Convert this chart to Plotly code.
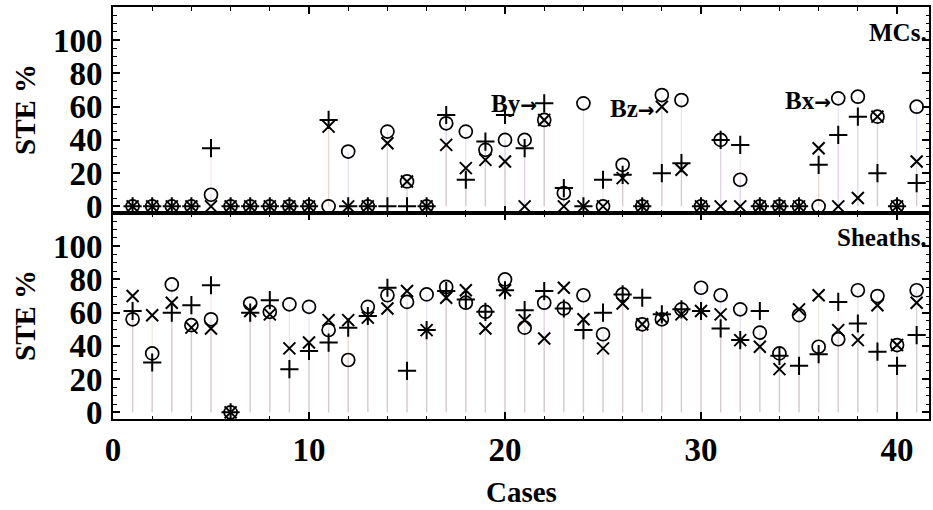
import plotly.graph_objects as go

cases = list(range(1, 42))

# MCs panel (top): circle, plus, cross series
mcs_circle = [0, 0, 0, 0, 7, 0, 0, 0, 0, 0, 0, 33, 0, 45, 15, 0, 50, 45, 34, 40, 40, 52, 8, 62, 0, 25, 0,
              67, 64, 0, 40, 16, 0, 0, 0, 0, 65, 66, 54, 0, 60]
mcs_plus = [0, 0, 0, 0, 35, 0, 0, 0, 0, 0, 52, 0, 0, 0, 0, 0, 55, 16, 39, 55, 35, 62, 11, 0, 16, 19, 0,
            20, 26, 0, 40, 37, 0, 0, 0, 25, 43, 54, 20, 0, 14]
mcs_x = [0, 0, 0, 0, 0, 0, 0, 0, 0, 0, 48, 0, 0, 38, 15, 0, 37, 23, 28, 27, 0, 52, 0, 0, 0, 17, 0,
         60, 22, 0, 0, 0, 0, 0, 0, 35, 0, 5, 54, 0, 27]

# Sheaths panel (bottom)
sh_circle = [56, 35.5, 77, 52.5, 56, 0, 65.5, 60.5, 65, 63.5, 49.5, 31.5, 63.5, 70.5, 66.5, 71, 75.5, 66,
             60.5, 80, 51, 66, 62.5, 70.5, 47, 71, 53, 56, 62, 75, 70.5, 62, 48, 35.5, 58.5, 39.5, 44,
             73.5, 70, 40.5, 73.5]
sh_plus = [61, 30, 60, 64.5, 76.5, 0, 60, 67.5, 26, 37, 42, 51, 58, 75, 25, 49.5, 73, 68, 60.5, 73.5,
           61.5, 73, 62.5, 49.5, 60, 71, 69, 59, 62, 61, 50.5, 43.5, 61, 34, 28, 35, 66.5, 53.5, 36.5,
           28, 46.5]
sh_x = [70, 58.5, 66, 51, 50.5, 0, 61, 59, 38.5, 42, 55.5, 55.5, 57, 62.5, 73, 49.5, 69, 73.5, 50.5,
        73.5, 55.5, 44.5, 75, 56, 38.5, 65.5, 53, 57, 59, 61, 59, 43.5, 39.5, 26, 62, 70.5, 49.5, 43.5,
        64.5, 40.5, 66]

panel_names = ["MCs.", "Sheaths."]
pointer_labels = ["By", "Bz", "Bx"]
pointer_x = [21.75, 27.75, 36.75]
pointer_y = [62, 59, 63.5]

FONT = "Liberation Serif, Times New Roman, serif"

series_style = [
    ("circle-open", 13, 1.7, "rgba(130,130,215,0.22)"),
    ("cross-thin", 13, 2.0, "rgba(205,150,170,0.20)"),
    ("x-thin", 12, 2.0, "rgba(195,175,130,0.26)"),
]

fig = go.Figure()

panels = [
    ("x2", "y2", [mcs_circle, mcs_plus, mcs_x]),
    ("x", "y", [sh_circle, sh_plus, sh_x]),
]

for xa, ya, series in panels:
    for vals, (sym, size, lw, stemcol) in zip(series, series_style):
        sx, sy = [], []
        for c, v in zip(cases, vals):
            sx += [c, c, None]
            sy += [0, v, None]
        fig.add_trace(go.Scatter(x=sx, y=sy, mode="lines", line=dict(color=stemcol, width=1.3),
                                 xaxis=xa, yaxis=ya, showlegend=False, hoverinfo="skip"))
for xa, ya, series in panels:
    for vals, (sym, size, lw, stemcol) in zip(series, series_style):
        fig.add_trace(go.Scatter(x=cases, y=vals, mode="markers",
                                 marker=dict(symbol=sym, size=size, color="black",
                                             line=dict(color="black", width=lw)),
                                 xaxis=xa, yaxis=ya, showlegend=False))

tickfont = dict(family=FONT, size=33, color="black", weight="bold")
xcommon = dict(range=[0, 41.63], showline=True, linewidth=2, linecolor="black", mirror="ticks",
               ticks="inside", ticklen=7, tickwidth=1.6, tickcolor="black",
               tickmode="array", tickvals=[0, 10, 20, 30, 40],
               minor=dict(dtick=2, tick0=0, ticks="inside", ticklen=3.5, tickwidth=1.2, tickcolor="black"),
               showgrid=False, zeroline=False, tickfont=tickfont)
ycommon = dict(range=[-4, 120], showline=True, linewidth=2, linecolor="black", mirror="ticks",
               ticks="inside", ticklen=7, tickwidth=1.6, tickcolor="black",
               tickmode="array", tickvals=[0, 20, 40, 60, 80, 100],
               minor=dict(dtick=5, tick0=0, ticks="inside", ticklen=3.5, tickwidth=1.2, tickcolor="black"),
               showgrid=False, zeroline=False, tickfont=tickfont, ticklabelstandoff=2)

fig.update_layout(
    width=933, height=510,
    margin=dict(l=113, r=2, t=7, b=91),
    paper_bgcolor="white", plot_bgcolor="white",
    xaxis=dict(anchor="y", domain=[0, 1], **xcommon),
    xaxis2=dict(anchor="y2", domain=[0, 1], matches="x", showticklabels=False, **xcommon),
    yaxis=dict(anchor="x", domain=[0, 0.5], **ycommon),
    yaxis2=dict(anchor="x2", domain=[0.5, 1], **ycommon),
)

annots = []
lblfont = dict(family=FONT, size=29, color="black", weight="bold")
for yc in (0.75, 0.25):
    annots.append(dict(text="STE %", xref="paper", yref="paper", x=0, y=yc, xshift=-88,
                       xanchor="center", yanchor="middle", textangle=-90, showarrow=False, font=lblfont))
annots.append(dict(text="Cases", xref="paper", yref="paper", x=0.5, y=0, yshift=-73,
                   xanchor="center", yanchor="middle", showarrow=False, font=lblfont))
pfont = dict(family=FONT, size=25, color="black", weight="bold")
annots.append(dict(text=panel_names[0], xref="paper", yref="paper", x=1, y=1, yshift=-25,
                   xanchor="right", yanchor="middle", showarrow=False, font=pfont))
annots.append(dict(text=panel_names[1], xref="paper", yref="paper", x=1, y=0.5, yshift=-24,
                   xanchor="right", yanchor="middle", showarrow=False, font=pfont))
for txt, px, py in zip(pointer_labels, pointer_x, pointer_y):
    annots.append(dict(text=txt + "<span style='font-family:DejaVu Sans;font-size:20px'>\u2192</span>",
                       xref="x2", yref="y2", x=px, y=py, xanchor="right", yanchor="middle",
                       showarrow=False, font=pfont))
fig.update_layout(annotations=annots)

fig.write_html("out.html")
